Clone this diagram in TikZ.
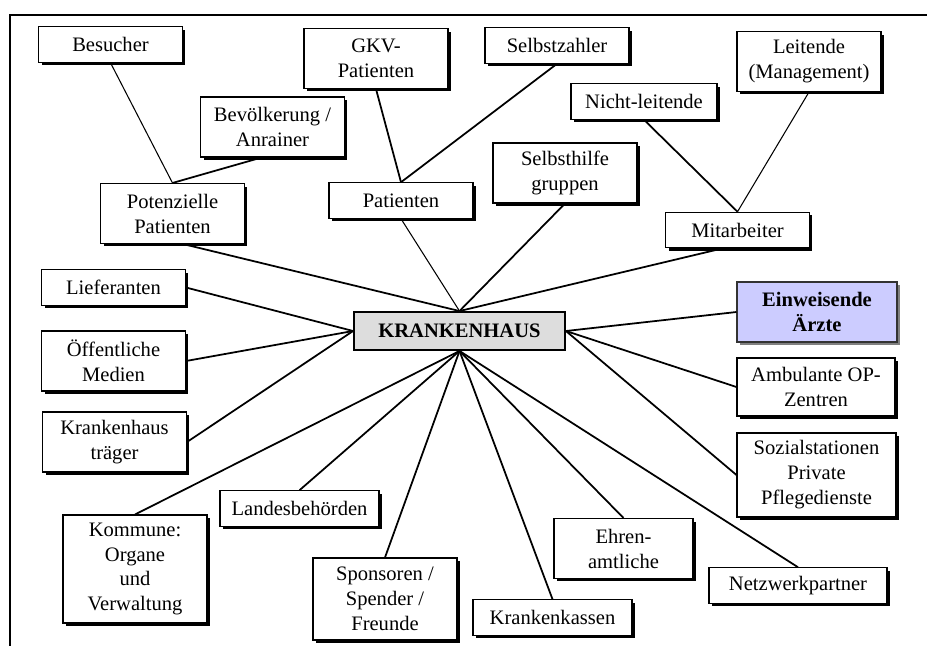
\documentclass[tikz,border=0pt]{standalone}
\usepackage{fontspec}
\setmainfont{Liberation Serif}
\usepackage{tikz}
\usetikzlibrary{shadows}

\definecolor{khgray}{RGB}{221,221,221}
\definecolor{lavender}{RGB}{204,204,255}

\begin{document}
\begin{tikzpicture}[x=0.02cm,y=-0.02cm,
    box/.style={draw,line width=0.6pt,fill=white,align=center,
      font=\fontsize{11.7pt}{14.2pt}\selectfont,
      minimum width=2.88cm,minimum height=0.71cm,inner sep=1pt,
      drop shadow={shadow xshift=0.06cm,shadow yshift=-0.06cm,fill=black,opacity=1}},
    lines2/.style={minimum height=1.2cm},
    lines3/.style={minimum height=1.68cm},
    lines4/.style={minimum height=2.16cm},
    link/.style={line width=1pt},
    thinlink/.style={line width=0.6pt}]
  \useasboundingbox (0,0) rectangle (927,646);
  \draw[line width=1.2pt] (10,646) -- (10,15) -- (927,15);

  % hub
  \node[draw,line width=1.1pt,fill=khgray,minimum width=4.22cm,minimum height=0.76cm,
    font=\fontsize{11.7pt}{14.2pt}\selectfont\bfseries] (kh) at (459.5,331) {KRANKENHAUS};

  % upper row
  \node[box] (besucher) at (110.5,44.5) {Besucher};
  \node[box,lines2] (bevoelk) at (272.5,127) {Bevölkerung /\\Anrainer};
  \node[box,lines2] (potpat) at (172.5,213.5) {Potenzielle\\Patienten};
  \node[box,lines2] (gkv) at (376,58.5) {GKV-\\Patienten};
  \node[box] (selbstz) at (557,45.5) {Selbstzahler};
  \node[box] (patienten) at (401,200.5) {Patienten};
  \node[box,lines2] (selbsthilfe) at (565,173) {Selbsthilfe\\gruppen};
  \node[box,minimum width=2.92cm] (nichtl) at (644,101.5) {Nicht-leitende};
  \node[box,lines2] (leitende) at (809,61.5) {Leitende\\(Management)};
  \node[box] (mitarb) at (737.5,230) {Mitarbeiter};

  % left column
  \node[box] (liefer) at (113.5,287.5) {Lieferanten};
  \node[box,lines2] (medien) at (113.5,361) {Öffentliche\\Medien};
  \node[box,lines2] (traeger) at (114.5,442) {Krankenhaus\\träger};

  % lower row
  \node[box,lines4] (kommune) at (135,569) {Kommune:\\Organe\\und\\Verwaltung};
  \node[box,minimum width=3.18cm] (landes) at (299.5,508.5) {Landesbehörden};
  \node[box,lines3,minimum height=1.64cm] (sponsoren) at (385,599) {Sponsoren /\\Spender /\\Freunde};
  \node[box,minimum width=3.18cm] (kassen) at (552.5,617.5) {Krankenkassen};
  \node[box,lines2,minimum width=2.78cm] (ehren) at (623.5,548.5) {Ehren-\\amtliche};
  \node[box,minimum width=3.56cm] (netz) at (798,585.5) {Netzwerkpartner};

  % right column
  \node[box,lines2,minimum width=3.2cm,fill=lavender,draw=black!80,
    font=\fontsize{11.7pt}{14.2pt}\selectfont\bfseries,
    drop shadow={shadow xshift=0.06cm,shadow yshift=-0.06cm,fill=black!50,opacity=1}]
    (einweis) at (817,312) {Einweisende\\Ärzte};
  \node[box,lines2,minimum width=3.16cm,minimum height=1.16cm] (ambulant) at (816,387) {Ambulante OP-\\Zentren};
  \node[box,lines3,minimum width=3.18cm] (sozial) at (816.5,475) {Sozialstationen\\Private\\Pflegedienste};

  % sub-groups
  \draw[thinlink] (besucher.south) -- (potpat.north);
  \draw[link] ([xshift=-0.22cm]bevoelk.south) -- (potpat.north);
  \draw[link] (gkv.south) -- (patienten.north);
  \draw[link] (selbstz.south) -- (patienten.north);
  \draw[link] (nichtl.south) -- (mitarb.north);
  \draw[thinlink] (leitende.south) -- (mitarb.north);

  % spokes to the hub
  \draw[link] ([xshift=0.21cm]potpat.south) -- (kh.north);
  \draw[thinlink] (patienten.south) -- (kh.north);
  \draw[link] (selbsthilfe.south) -- (kh.north);
  \draw[link] ([xshift=-0.29cm]mitarb.south) -- (kh.north);
  \foreach \n in {liefer,medien,traeger} {
    \draw[link] (\n.east) -- (kh.west);
  }
  \foreach \n in {kommune,landes,sponsoren,kassen,ehren,netz} {
    \draw[link] (\n.north) -- (kh.south);
  }
  \foreach \n in {einweis,ambulant,sozial} {
    \draw[link] (\n.west) -- (kh.east);
  }
\end{tikzpicture}
\end{document}
